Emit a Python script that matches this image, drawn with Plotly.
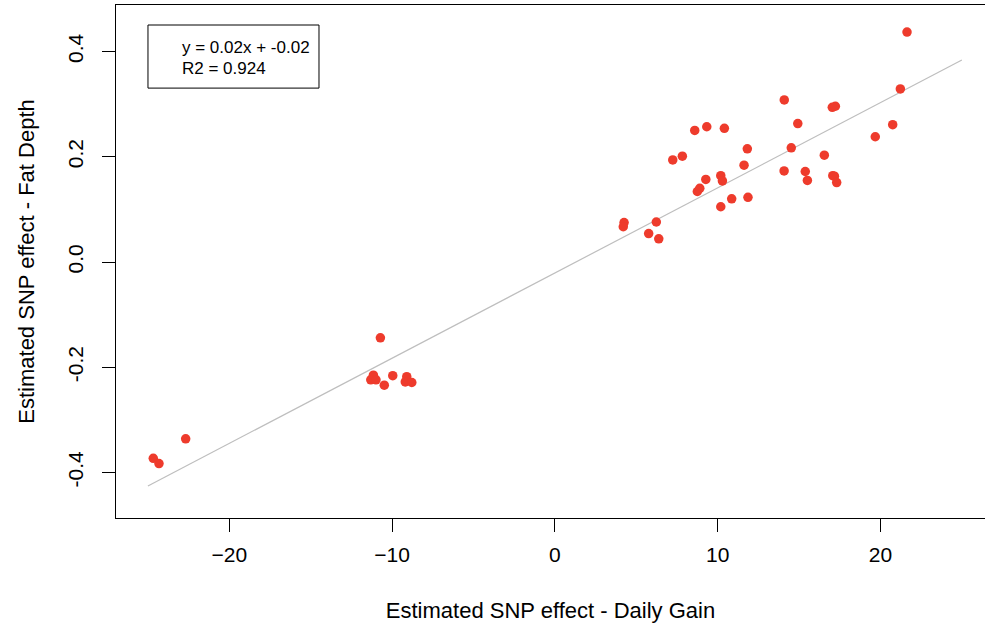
import plotly.graph_objects as go

# Estimated SNP effects
daily_gain = [
    -24.67, -24.32, -22.68,
    -10.72, -11.15, -11.31, -10.99, -10.48, -9.96, -9.10, -9.19, -8.79,
    21.63, 21.22, 20.75, 19.68, 14.09, 17.04, 17.23, 14.92, 8.59, 9.33,
    10.41, 7.24, 7.83, 11.82, 11.62, 14.52, 16.55, 14.08, 15.38, 15.51,
    17.07, 17.17, 17.31, 9.27, 10.19, 10.29, 8.75, 8.90, 10.86, 11.86,
    10.19, 4.25, 4.20, 6.23, 5.76, 6.38,
]
fat_depth = [
    -0.373, -0.383, -0.336,
    -0.144, -0.215, -0.224, -0.224, -0.234, -0.216, -0.218, -0.228, -0.229,
    0.437, 0.329, 0.261, 0.238, 0.308, 0.294, 0.296, 0.263, 0.250, 0.257,
    0.254, 0.194, 0.201, 0.215, 0.184, 0.217, 0.203, 0.173, 0.172, 0.155,
    0.164, 0.163, 0.151, 0.157, 0.164, 0.154, 0.134, 0.140, 0.120, 0.123,
    0.105, 0.075, 0.067, 0.076, 0.054, 0.044,
]

# Fitted line
fit_slope = 0.01619
fit_intercept = -0.0209
line_x = [-25, 25]
legend_lines = ["y = 0.02x + -0.02", "R2 = 0.924"]

x_ticks = [-20, -10, 0, 10, 20]
y_ticks = [-0.4, -0.2, 0.0, 0.2, 0.4]
y_tick_text = ["-0.4", "-0.2", "0.0", "0.2", "0.4"]

line_y = [fit_slope * v + fit_intercept for v in line_x]

FONT = "Liberation Sans, Arial, sans-serif"

fig = go.Figure()
fig.add_trace(go.Scatter(
    x=line_x, y=line_y, mode="lines",
    line=dict(color="#BEBEBE", width=1.2),
    hoverinfo="skip", showlegend=False,
))
fig.add_trace(go.Scatter(
    x=daily_gain, y=fat_depth, mode="markers",
    marker=dict(color="#EE3B2C", size=9.5, line=dict(width=0)),
    showlegend=False,
))

fig.update_layout(
    width=986, height=623,
    margin=dict(l=116, r=1, t=5, b=105),
    paper_bgcolor="white", plot_bgcolor="white",
    font=dict(family=FONT, size=21, color="black"),
    xaxis=dict(
        range=[-26.96, 26.42],
        tickvals=x_ticks,
        ticks="outside", ticklen=13, tickwidth=1, tickcolor="black",
        showline=True, linecolor="black", linewidth=1, mirror=True,
        showgrid=False, zeroline=False,
        tickfont=dict(size=21),
        ticklabelstandoff=5,
        title=dict(text="Estimated SNP effect - Daily Gain", font=dict(size=22), standoff=37),
    ),
    yaxis=dict(
        range=[-0.4865, 0.4884],
        tickvals=y_ticks, ticktext=y_tick_text,
        tickangle=-90,
        ticks="outside", ticklen=13, tickwidth=1, tickcolor="black",
        showline=True, linecolor="black", linewidth=1, mirror=False,
        showgrid=False, zeroline=False,
        tickfont=dict(size=21),
        ticklabelstandoff=11,
        title=dict(text="Estimated SNP effect - Fat Depth", font=dict(size=22), standoff=22),
    ),
)

# Legend box (top-left)
fig.add_shape(
    type="rect", xref="paper", yref="paper",
    x0=0.0368, x1=0.2336, y0=0.838, y1=0.961,
    line=dict(color="black", width=1), fillcolor="white", layer="above",
)
for text, yp in zip(legend_lines, [0.918, 0.877]):
    fig.add_annotation(
        xref="paper", yref="paper", x=0.0736, y=yp,
        xanchor="left", yanchor="middle", showarrow=False,
        text=text, font=dict(family=FONT, size=17, color="black"),
    )

fig.write_html(
    "out.html",
    config={"displayModeBar": False},
    post_script="document.body.style.margin='0';",
)
